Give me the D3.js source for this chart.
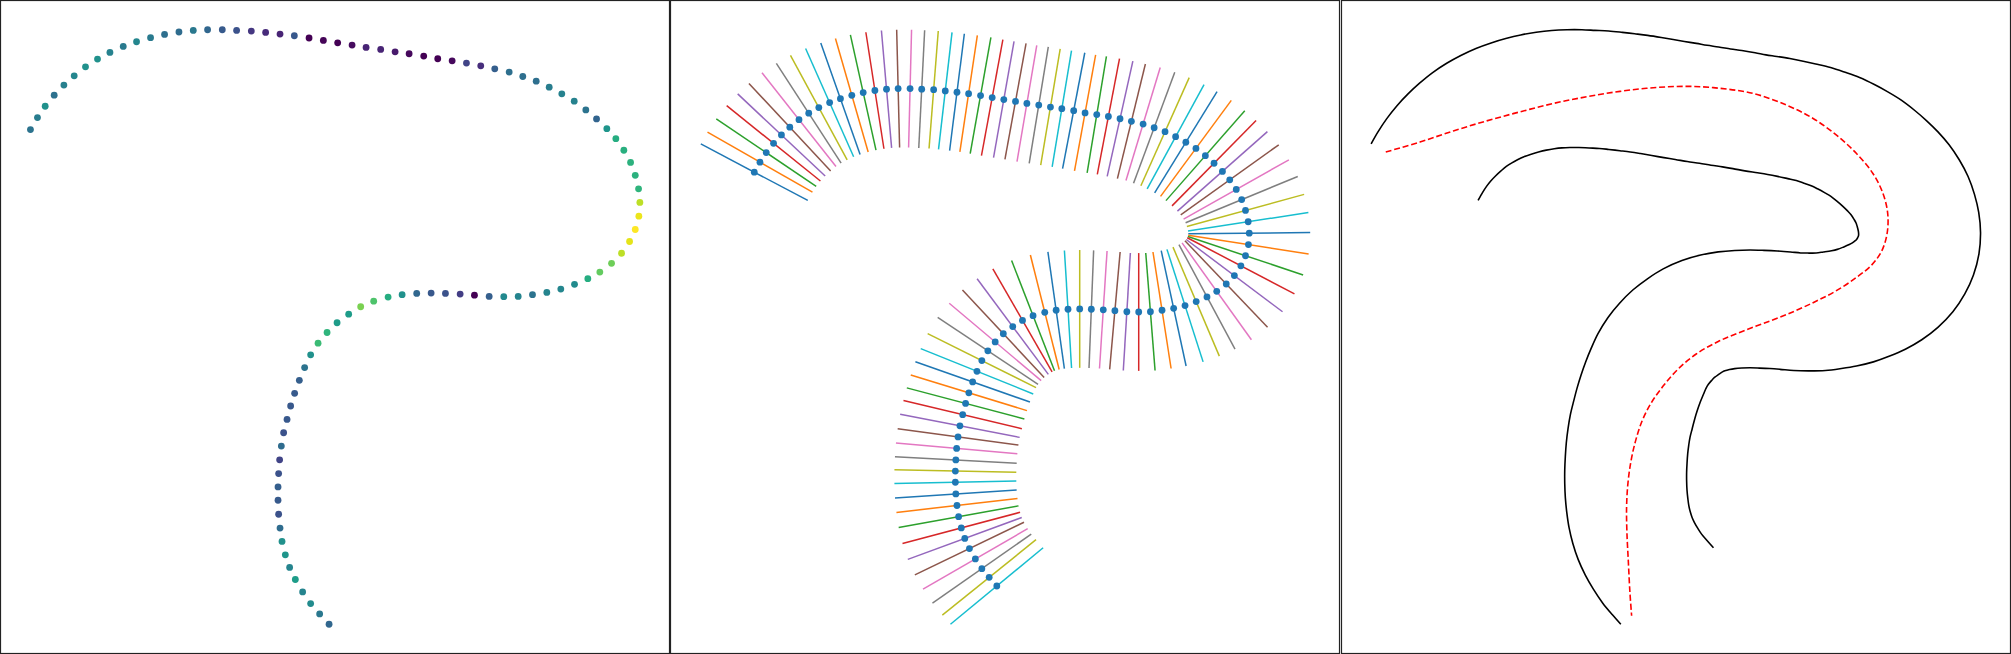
<!DOCTYPE html>
<html>
<head>
<meta charset="utf-8">
<script src="https://cdn.jsdelivr.net/npm/d3@7"></script>
<style>
	body { margin: 0; background: #fff; }
	svg { display: block; }
</style>
</head>
<body>
<div id="chart"></div>
<script>
// Centre line of the curve (100 resampled points)
const curveX = [
	0.303, 0.373, 0.450, 0.540, 0.637, 0.740, 0.853, 0.973, 1.097, 1.230,
	1.363, 1.503, 1.643, 1.787, 1.930, 2.073, 2.220, 2.363, 2.510, 2.653,
	2.797, 2.940, 3.087, 3.230, 3.373, 3.517, 3.657, 3.803, 3.947, 4.087,
	4.233, 4.373, 4.517, 4.660, 4.803, 4.943, 5.087, 5.223, 5.357, 5.487,
	5.613, 5.737, 5.853, 5.960, 6.063, 6.153, 6.233, 6.300, 6.347, 6.380,
	6.393, 6.383, 6.347, 6.290, 6.210, 6.110, 5.993, 5.873, 5.740, 5.603,
	5.463, 5.320, 5.177, 5.033, 4.887, 4.740, 4.597, 4.450, 4.307, 4.163,
	4.017, 3.877, 3.733, 3.603, 3.483, 3.367, 3.267, 3.177, 3.103, 3.043,
	2.990, 2.943, 2.903, 2.867, 2.833, 2.810, 2.793, 2.783, 2.777, 2.777,
	2.783, 2.797, 2.817, 2.850, 2.893, 2.950, 3.023, 3.103, 3.193, 3.287
];
const curveY = [
	5.600, 5.728, 5.849, 5.967, 6.074, 6.173, 6.269, 6.351, 6.422, 6.486,
	6.536, 6.579, 6.614, 6.640, 6.657, 6.664, 6.664, 6.657, 6.650, 6.635,
	6.618, 6.600, 6.576, 6.550, 6.525, 6.501, 6.475, 6.454, 6.429, 6.408,
	6.383, 6.355, 6.333, 6.309, 6.280, 6.248, 6.213, 6.166, 6.116, 6.052,
	5.981, 5.903, 5.810, 5.714, 5.610, 5.503, 5.380, 5.251, 5.113, 4.969,
	4.824, 4.678, 4.536, 4.408, 4.283, 4.176, 4.083, 4.012, 3.952, 3.901,
	3.866, 3.842, 3.823, 3.820, 3.823, 3.837, 3.848, 3.855, 3.859, 3.855,
	3.842, 3.816, 3.773, 3.713, 3.634, 3.543, 3.439, 3.325, 3.201, 3.065,
	2.930, 2.791, 2.656, 2.513, 2.371, 2.229, 2.083, 1.936, 1.794, 1.652,
	1.503, 1.356, 1.214, 1.071, 0.937, 0.808, 0.676, 0.552, 0.441, 0.331
];
// Colour value of each point (0..1, viridis)
const curvature = [
	0.38, 0.42, 0.50, 0.37, 0.43, 0.46, 0.50, 0.50, 0.44, 0.41,
	0.46, 0.41, 0.36, 0.35, 0.40, 0.33, 0.28, 0.25, 0.16, 0.12,
	0.10, 0.27, 0.00, 0.01, 0.00, 0.03, 0.10, 0.10, 0.07, 0.02,
	0.00, 0.00, 0.02, 0.20, 0.13, 0.30, 0.36, 0.36, 0.36, 0.42,
	0.44, 0.44, 0.38, 0.32, 0.52, 0.62, 0.63, 0.64, 0.64, 0.65,
	0.90, 0.97, 1.00, 0.96, 0.90, 0.78, 0.76, 0.62, 0.48, 0.46,
	0.45, 0.38, 0.45, 0.47, 0.30, 0.00, 0.18, 0.25, 0.27, 0.33,
	0.50, 0.62, 0.72, 0.80, 0.55, 0.55, 0.65, 0.68, 0.50, 0.38,
	0.30, 0.28, 0.27, 0.27, 0.25, 0.35, 0.20, 0.25, 0.30, 0.28,
	0.25, 0.35, 0.50, 0.52, 0.45, 0.55, 0.45, 0.48, 0.40, 0.33
];
// Half length of each normal / offset distance
const halfWidth = 0.75;
// Red dashed guide line in the third panel
const guideX = [
	-0.175, 0.246, 0.656, 1.067, 1.476, 1.886, 2.296, 2.706, 3.115, 3.526,
	3.936, 4.345, 4.756, 5.083, 5.371, 5.617, 5.821, 5.944, 6.001, 5.993,
	5.928, 5.805, 5.608, 5.362, 5.125, 4.858, 4.550, 4.218, 3.911, 3.640,
	3.419, 3.235, 3.087, 2.976, 2.896, 2.841, 2.804, 2.788, 2.792, 2.810,
	2.829, 2.850
];
const guideY = [
	5.857, 5.984, 6.125, 6.253, 6.368, 6.475, 6.560, 6.629, 6.675, 6.693,
	6.668, 6.603, 6.454, 6.284, 6.071, 5.837, 5.580, 5.325, 5.073, 4.817,
	4.599, 4.420, 4.254, 4.087, 3.960, 3.832, 3.704, 3.576, 3.442, 3.282,
	3.090, 2.873, 2.655, 2.425, 2.169, 1.914, 1.632, 1.338, 1.018, 0.634,
	0.251, -0.047
];

const width = 2011;
const height = 654;
const panelWidth = width / 3;
const tab10 = d3.schemeCategory10;

const svg = d3.select('#chart').append('svg')
	.attr('width', width)
	.attr('height', height);

// Points and unit normals (central differences, one-sided at the ends)
const n = curveX.length;
const points = curveX.map(function(x, i) {
	const a = Math.max(i - 1, 0), b = Math.min(i + 1, n - 1);
	const tx = curveX[b] - curveX[a], ty = curveY[b] - curveY[a];
	const len = Math.hypot(tx, ty);
	const nx = -ty / len, ny = tx / len;
	return {
		x: x, y: curveY[i], c: curvature[i], i: i,
		x1: x + halfWidth * nx, y1: curveY[i] + halfWidth * ny,
		x2: x - halfWidth * nx, y2: curveY[i] - halfWidth * ny
	};
});

// Autoscale like matplotlib: data extent with 5% margins
function makeScales(xs, ys, k) {
	const xe = d3.extent(xs), ye = d3.extent(ys);
	const dx = (xe[1] - xe[0]) * 0.05, dy = (ye[1] - ye[0]) * 0.05;
	return {
		x: d3.scaleLinear().domain([xe[0] - dx, xe[1] + dx]).range([k * panelWidth, (k + 1) * panelWidth]),
		y: d3.scaleLinear().domain([ye[0] - dy, ye[1] + dy]).range([height, 0])
	};
}

const endX = points.map(function(p) { return p.x1; }).concat(points.map(function(p) { return p.x2; }), curveX);
const endY = points.map(function(p) { return p.y1; }).concat(points.map(function(p) { return p.y2; }), curveY);

// Panel 1: points coloured by curvature
(function() {
	const s = makeScales(curveX, curveY, 0);
	svg.append('g').selectAll('circle')
		.data(points)
		.enter().append('circle')
		.attr('cx', function(d) { return s.x(d.x); })
		.attr('cy', function(d) { return s.y(d.y); })
		.attr('r', 3.4)
		.attr('fill', function(d) { return d3.interpolateViridis(d.c); });
})();

// Panel 2: normals with centre points
(function() {
	const s = makeScales(endX, endY, 1);
	const g = svg.append('g');
	g.selectAll('line')
		.data(points)
		.enter().append('line')
		.attr('x1', function(d) { return s.x(d.x1); })
		.attr('y1', function(d) { return s.y(d.y1); })
		.attr('x2', function(d) { return s.x(d.x2); })
		.attr('y2', function(d) { return s.y(d.y2); })
		.attr('stroke', function(d) { return tab10[d.i % 10]; })
		.attr('stroke-width', 1.5);
	g.selectAll('circle')
		.data(points)
		.enter().append('circle')
		.attr('cx', function(d) { return s.x(d.x); })
		.attr('cy', function(d) { return s.y(d.y); })
		.attr('r', 3.4)
		.attr('fill', '#1f77b4');
})();

// Panel 3: offset curves and guide line
(function() {
	const s = makeScales(endX, endY, 2);
	const g = svg.append('g');
	const sideA = d3.line()
		.x(function(d) { return s.x(d.x1); })
		.y(function(d) { return s.y(d.y1); })
		.curve(d3.curveCatmullRom);
	const sideB = d3.line()
		.x(function(d) { return s.x(d.x2); })
		.y(function(d) { return s.y(d.y2); })
		.curve(d3.curveCatmullRom);
	g.append('path').attr('d', sideA(points))
		.attr('fill', 'none').attr('stroke', '#000').attr('stroke-width', 1.6);
	g.append('path').attr('d', sideB(points))
		.attr('fill', 'none').attr('stroke', '#000').attr('stroke-width', 1.6);

	const guide = d3.line()
		.x(function(d, i) { return s.x(guideX[i]); })
		.y(function(d, i) { return s.y(guideY[i]); })
		.curve(d3.curveCatmullRom);
	g.append('path').attr('d', guide(guideX))
		.attr('fill', 'none')
		.attr('stroke', 'red')
		.attr('stroke-width', 1.6)
		.attr('stroke-dasharray', '6,2.8');
})();

// Axes frames
[0, 1, 2].forEach(function(k) {
	svg.append('rect')
		.attr('x', Math.round(k * panelWidth) + 0.5)
		.attr('y', 0.5)
		.attr('width', Math.round(panelWidth) - 1)
		.attr('height', height - 1)
		.attr('fill', 'none')
		.attr('stroke', '#222')
		.attr('stroke-width', 1.2);
});
</script>
</body>
</html>
